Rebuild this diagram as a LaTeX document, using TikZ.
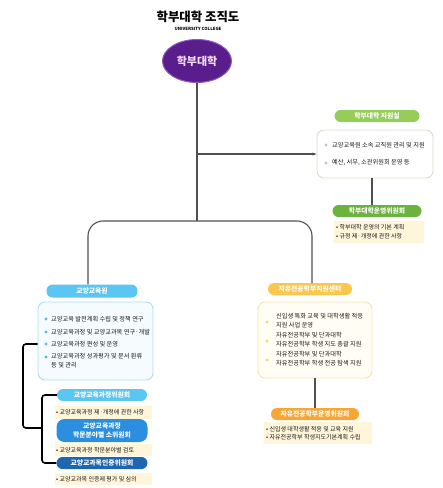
\documentclass[tikz,border=0pt]{standalone}
\usepackage{fontspec}
\setmainfont{Noto Sans CJK KR}
\usetikzlibrary{arrows.meta,shapes.geometric}

\definecolor{rootpurple}{HTML}{5A1E8C}
\definecolor{rootedge}{HTML}{8C5CBE}
\definecolor{roottext}{HTML}{F3DDF2}
\definecolor{greenA}{HTML}{95CC5A}
\definecolor{greenB}{HTML}{6CB23E}
\definecolor{greenedge}{HTML}{D5DFC8}
\definecolor{greendot}{HTML}{B9CFA3}
\definecolor{skyA}{HTML}{5CC6F2}
\definecolor{skyedge}{HTML}{A9DDF1}
\definecolor{skyfill}{HTML}{F6FBFE}
\definecolor{skydot}{HTML}{5DB9D8}
\definecolor{blueB}{HTML}{2B8EDF}
\definecolor{blueC}{HTML}{1D67B0}
\definecolor{orangeA}{HTML}{FBC64C}
\definecolor{orangeB}{HTML}{F5A634}
\definecolor{orangeedge}{HTML}{FBE4A6}
\definecolor{orangefill}{HTML}{FFFDF4}
\definecolor{orangedot}{HTML}{F5D26C}
\definecolor{notebg}{HTML}{FFF5DA}
\definecolor{linegray}{HTML}{505050}

\begin{document}
\begin{tikzpicture}[x=1pt,y=-1pt,
  pill/.style={rectangle, rounded corners=6pt, minimum height=12pt, inner sep=0pt,
    text=white, font=\bfseries\fontsize{6.8}{8}\selectfont, align=center},
  panel/.style={rectangle, rounded corners=7pt, line width=0.9pt},
  note/.style={rectangle, fill=notebg, inner sep=0pt},
  item/.style={anchor=west, inner sep=0pt, text=black!90,
    font=\fontsize{6.2}{8.8}\selectfont, align=left},
  noteitem/.style={item, font=\fontsize{6}{8}\selectfont},
  conn/.style={draw=linegray, line width=1.1pt},
  brace/.style={draw=black, line width=1.6pt, rounded corners=3pt}
]
\useasboundingbox (0,0) rectangle (443,488);

% title
\node[font=\bfseries\fontsize{12.4}{14}\selectfont, inner sep=0pt] (title) at (198,17) {학부대학 조직도};
\node[font=\bfseries\fontsize{4.3}{5}\selectfont, inner sep=0pt] (subtitle) at (198,28.5) {UNIVERSITY COLLEGE};

% root
\node[ellipse, fill=rootpurple, draw=rootedge, line width=1pt, minimum width=69pt,
  minimum height=43pt, inner sep=0pt, text=roottext,
  font=\bfseries\fontsize{11}{13}\selectfont] (root) at (197,61) {학부대학};

% support office (right, top)
\node[pill, fill=greenA, minimum width=85pt] (sup) at (377,116) {학부대학 지원실};
\node[panel, draw=greenedge, fill=white, minimum width=116pt, minimum height=48pt] (supbox) at (375,154) {};
\fill[greendot] (326,145) circle (1.6);
\fill[greendot] (326,163) circle (1.6);
\node[item] (s1) at (332,145) {교양교육원 소속 교직원 관리 및 지원};
\node[item] (s2) at (332,163) {예산, 서무, 소관위원회 운영 등};

\node[pill, fill=greenB, minimum width=89pt] (com) at (377,211) {학부대학운영위원회};
\node[note, minimum width=90pt, minimum height=22pt] (comnote) at (379,232) {};
\node[noteitem] (cm1) at (336,227.5) {• 학부대학 운영의 기본 계획};
\node[noteitem] (cm2) at (336,236.5) {• 규정 제·개정에 관한 사항};

% liberal arts (left)
\node[pill, fill=skyA, minimum width=91pt, minimum height=13pt] (lib) at (92,291) {교양교육원};
\node[panel, draw=skyedge, fill=skyfill, minimum width=115pt, minimum height=78pt] (libbox) at (95.5,341) {};
\foreach \yy in {319,332,344,357} \fill[skydot] (46,\yy) circle (1.6);
\node[item] (l1) at (51,319) {교양교육 발전계획 수립 및 정책 연구};
\node[item] (l2) at (51,332) {교양교육과정 및 교양교과목 연구·개발};
\node[item] (l3) at (51,344) {교양교육과정 편성 및 운영};
\node[item, anchor=north west] (l4) at (51,353.5) {교양교육과정 성과평가 및 문서 환류\\등 및 관리};

\node[pill, fill=skyA, minimum width=90pt] (c1) at (102,395) {교양교육과정위원회};
\node[note, minimum width=97pt, minimum height=13pt] (c1note) at (103,412) {};
\node[noteitem] (c1i) at (56,412) {• 교양교육과정 제·개정에 관한 사항};
\node[pill, fill=blueB, minimum width=91pt, minimum height=23pt, rounded corners=8pt,
  font=\bfseries\fontsize{6.8}{8.4}\selectfont] (c2) at (102,430.5) {교양교육과정\\학문분야별 소위원회};
\node[note, minimum width=97pt, minimum height=12pt] (c2note) at (103,450) {};
\node[noteitem] (c2i) at (56,450) {• 교양교육과정 학문분야별 검토};
\node[pill, fill=blueC, minimum width=91pt] (c3) at (102,463) {교양교과목인증위원회};
\node[note, minimum width=97pt, minimum height=12pt] (c3note) at (103,479) {};
\node[noteitem] (c3i) at (56,479) {• 교양교과목 인증제 평가 및 심의};

% free major centre (right)
\node[pill, fill=orangeA, minimum width=84pt] (fm) at (310,289) {자유전공학부지원센터};
\node[panel, draw=orangeedge, fill=orangefill, minimum width=114pt, minimum height=76pt] (fmbox) at (315,340) {};
\foreach \yy in {322,341,360} \fill[orangedot] (267,\yy) circle (1.7);
\node[item, anchor=north west] (f1) at (276,313.5) {신입생 특화 교육 및 대학생활 적응\\지원 사업 운영};
\node[item, anchor=north west] (f2) at (276,332.5) {자유전공학부 및 단과대학\\자유전공학부 학생 지도 총괄 지원};
\node[item, anchor=north west] (f3) at (276,351.5) {자유전공학부 및 단과대학\\자유전공학부 학생 전공 탐색 지원};

\node[pill, fill=orangeB, minimum width=88pt] (fmcom) at (315,414) {자유전공학부운영위원회};
\node[note, minimum width=108pt, minimum height=22pt] (fmnote) at (318,433) {};
\node[noteitem] (fc1) at (266,429) {• 신입생 대학생활 적응 및 교육 지원};
\node[noteitem] (fc2) at (266,437.5) {• 자유전공학부 학생지도기본계획 수립};

% connectors
\coordinate (j) at (197,221);
\draw[conn] (root.south) -- (j);
\draw[conn, rounded corners=15pt] (lib.north -| 88,0) |- (j) -| (fm.north -| 312,0);
\draw[conn, -{Stealth[length=4pt,width=3pt]}] (root.south |- supbox.west) -- (supbox.west);
\draw[conn] (supbox.south -| 372,0) -- (com.north -| 372,0);
\draw[conn] (fmbox.south) -- (fmcom.north);

% bracket to the committees
\coordinate (b) at (42,428);
\draw[brace] (libbox.west |- l3) -| (23,428) -- (b);
\draw[brace] (c1.west) -| (b) |- (c3.west);
\end{tikzpicture}
\end{document}
